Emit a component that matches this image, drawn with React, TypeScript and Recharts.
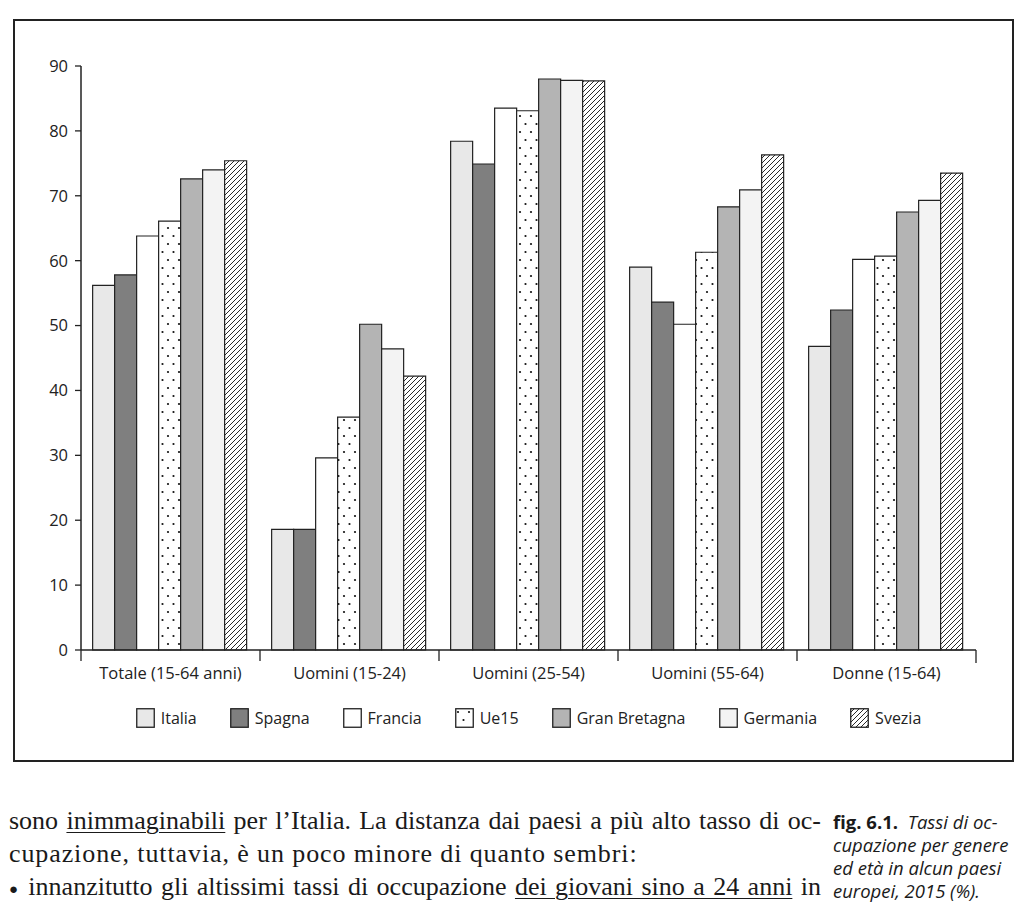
import { BarChart, Bar, XAxis, YAxis } from 'recharts';

// Employment rates by gender and age, 2015 (%)
const categories = ['Totale (15-64 anni)', 'Uomini (15-24)', 'Uomini (25-54)', 'Uomini (55-64)', 'Donne (15-64)'];
const italia = [56.2, 18.6, 78.4, 59.0, 46.8];
const spagna = [57.8, 18.6, 74.9, 53.6, 52.4];
const francia = [63.8, 29.6, 83.5, 50.2, 60.2];
const ue15 = [66.1, 35.9, 83.1, 61.3, 60.7];
const granBretagna = [72.6, 50.2, 88.0, 68.3, 67.5];
const germania = [74.0, 46.4, 87.8, 70.9, 69.3];
const svezia = [75.4, 42.2, 87.7, 76.3, 73.5];
const yTicks = [0, 10, 20, 30, 40, 50, 60, 70, 80, 90];

const series = [
  { key: 'Italia', values: italia, fill: '#e8e8e8' },
  { key: 'Spagna', values: spagna, fill: '#7f7f7f' },
  { key: 'Francia', values: francia, fill: '#ffffff' },
  { key: 'Ue15', values: ue15, fill: 'url(#dots)' },
  { key: 'Gran Bretagna', values: granBretagna, fill: '#b4b4b4' },
  { key: 'Germania', values: germania, fill: '#f3f3f3' },
  { key: 'Svezia', values: svezia, fill: 'url(#hatch)' },
];

const data = categories.map((name, i) => {
  const row: Record<string, string | number> = { name };
  series.forEach((s) => (row[s.key] = s.values[i]));
  return row;
});

const SANS = '"Open Sans", "Noto Sans", sans-serif';
const INK = '#222';

const CHART_W = 1024;
const CHART_H = 700;
const MARGIN = { top: 66, right: 48, bottom: 20, left: 21 };
const Y_AXIS_W = 60;
const X_AXIS_H = 30;
const PLOT_W = CHART_W - MARGIN.left - MARGIN.right - Y_AXIS_W;

function CategoryTick(props: any) {
  const { x, y, payload, index } = props;
  const bw = PLOT_W / categories.length;
  const last = index === categories.length - 1;
  return (
    <g>
      <line x1={x - bw / 2} x2={x - bw / 2} y1={y} y2={y + 11} stroke={INK} strokeWidth={1.3} />
      {last && <line x1={x + bw / 2} x2={x + bw / 2} y1={y} y2={y + 13} stroke={INK} strokeWidth={1.3} />}
      <text x={x} y={y + 29} textAnchor="middle" fontSize={16.5} fontFamily={SANS} fill={INK}>
        {payload.value}
      </text>
    </g>
  );
}

function Patterns() {
  return (
    <svg width={0} height={0} style={{ position: 'absolute' }}>
      <defs>
        <pattern id="dots" patternUnits="userSpaceOnUse" width={11} height={16}>
          <rect width={11} height={16} fill="#fff" />
          <circle cx={3} cy={4} r={1.1} fill="#111" />
          <circle cx={8.5} cy={12} r={1.1} fill="#111" />
        </pattern>
        <pattern id="hatch" patternUnits="userSpaceOnUse" width={5} height={5}>
          <rect width={5} height={5} fill="#fff" />
          <path d="M-1,1 l2,-2 M0,5 l5,-5 M4,6 l2,-2" stroke="#111" strokeWidth={0.9} />
        </pattern>
      </defs>
    </svg>
  );
}

function Legend() {
  return (
    <div
      style={{
        position: 'absolute',
        top: 708,
        left: MARGIN.left + Y_AXIS_W,
        width: PLOT_W,
        display: 'flex',
        justifyContent: 'center',
        gap: 33,
        fontFamily: SANS,
        fontSize: 16,
        color: INK,
      }}
    >
      {series.map((s) => (
        <div key={s.key} style={{ display: 'flex', alignItems: 'center', gap: 6, height: 20 }}>
          <svg width={19} height={20}>
            <rect x={0.75} y={0.75} width={17.5} height={18.5} fill={s.fill} stroke={INK} strokeWidth={1.3} />
          </svg>
          <span>{s.key}</span>
        </div>
      ))}
    </div>
  );
}

const bodyLine = {
  fontFamily: '"Liberation Serif", "DejaVu Serif", serif',
  fontSize: 26,
  lineHeight: '33px',
  color: '#1a1a1a',
  height: 33,
  whiteSpace: 'nowrap' as const,
};
const justified = { textAlign: 'justify', textAlignLast: 'justify' } as const;
const mark = { textDecoration: 'underline', textDecorationThickness: 1, textUnderlineOffset: 3 } as const;

export default function App() {
  return (
    <div style={{ position: 'absolute', left: 0, top: 0, width: 1024, height: 910, background: '#fff', overflow: 'hidden' }}>
      <Patterns />
      <div style={{ position: 'absolute', left: 13, top: 19, width: 997, height: 739, border: `2px solid ${INK}` }} />
      <div style={{ position: 'absolute', left: 0, top: 0 }}>
        <BarChart width={CHART_W} height={CHART_H} data={data} margin={MARGIN} barCategoryGap="6.5%" barGap={0}>
          <XAxis
            dataKey="name"
            height={X_AXIS_H}
            axisLine={{ stroke: INK, strokeWidth: 1.5 }}
            tickLine={false}
            tickSize={0}
            tickMargin={0}
            tick={<CategoryTick />}
            interval={0}
          />
          <YAxis
            width={Y_AXIS_W}
            domain={[0, 90]}
            ticks={yTicks}
            interval={0}
            axisLine={{ stroke: INK, strokeWidth: 1.5 }}
            tickLine={{ stroke: INK, strokeWidth: 1.3 }}
            tickSize={6}
            tickMargin={7}
            tick={{ fontSize: 16.5, fontFamily: SANS, fill: INK }}
          />
          {series.map((s) => (
            <Bar key={s.key} dataKey={s.key} fill={s.fill} stroke={INK} strokeWidth={1.2} isAnimationActive={false} />
          ))}
        </BarChart>
      </div>
      <Legend />
      <div style={{ position: 'absolute', left: 9, top: 804, width: 812 }}>
        <div style={{ ...bodyLine, ...justified }}>
          sono <span style={mark}>inimmaginabili</span> per l’Italia. La distanza dai paesi a più alto tasso di oc-
        </div>
        <div style={{ ...bodyLine, letterSpacing: 0.9 }}>cupazione, tuttavia, è un poco minore di quanto sembri:</div>
        <div style={{ ...bodyLine, ...justified }}>
          <span style={{ fontSize: 15, verticalAlign: 'middle' }}>●</span> innanzitutto gli altissimi tassi di occupazione{' '}
          <span style={mark}>dei giovani sino a 24 anni</span> in
        </div>
      </div>
      <div
        style={{
          position: 'absolute',
          left: 833,
          top: 810,
          fontFamily: SANS,
          fontSize: 18.5,
          color: '#1a1a1a',
          lineHeight: '23px',
          whiteSpace: 'nowrap',
        }}
      >
        <div>
          <b>fig. 6.1.</b>&nbsp; <i>Tassi di oc-</i>
        </div>
        <div><i>cupazione per genere</i></div>
        <div><i>ed età in alcun paesi</i></div>
        <div><i>europei, 2015 (%).</i></div>
      </div>
    </div>
  );
}
